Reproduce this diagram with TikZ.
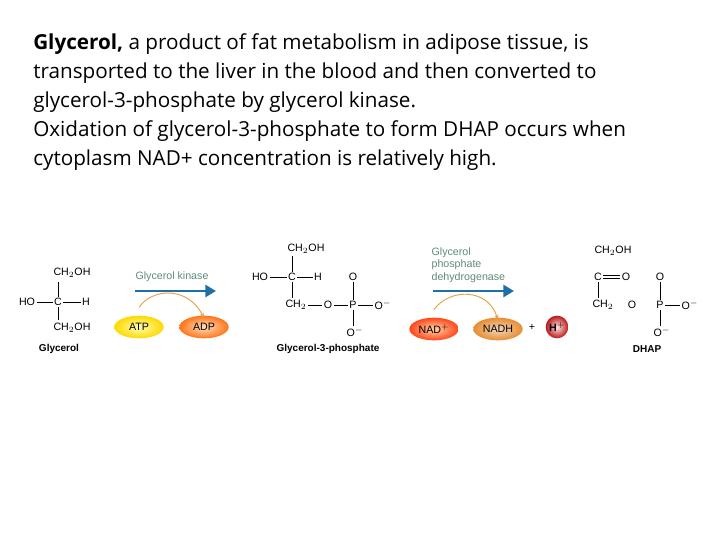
\documentclass[tikz,border=0pt]{standalone}
\usepackage{fontspec}
\setmainfont{Open Sans}
\newfontfamily\chem{Liberation Sans}
\definecolor{ablue}{HTML}{1E6FA5}
\definecolor{lgreen}{HTML}{5E8C7A}
\definecolor{corange}{HTML}{E8A040}
\usetikzlibrary{arrows.meta,shapes.geometric}
\tikzset{
 atm/.style={font=\chem\fontsize{8}{9.5}\selectfont,inner sep=1pt},
 lab/.style={font=\chem\bfseries\fontsize{7.5}{9}\selectfont},
 bond/.style={line width=0.5pt},
 blob/.style={ellipse,minimum width=37pt,minimum height=17pt,inner sep=0pt,font=\chem\fontsize{8}{9}\selectfont},
 bigarrow/.style={ablue,line width=2.2pt,-{Triangle[length=8pt,width=9pt]}},
 curve/.style={corange,line width=0.7pt,-{Stealth[length=4pt]}}
}
\begin{document}
\begin{tikzpicture}[x=0.75pt,y=-0.75pt]
\useasboundingbox[fill=white] (0,0) rectangle (720,540);
\node[anchor=west,align=left,font=\fontsize{15.5}{21.6}\selectfont,inner sep=0pt] (txt) at (33,102)
{\textbf{Glycerol,} a product of fat metabolism in adipose tissue, is\\
transported to the liver in the blood and then converted to\\
glycerol-3-phosphate by glycerol kinase.\\
Oxidation of glycerol-3-phosphate to form DHAP occurs when\\
cytoplasm NAD+ concentration is relatively high.};
% Glycerol
\node[atm] (g1) at (72,273) {CH$_2$OH};
\node[atm] (gc) at (58,302) {C};
\node[atm] (gho) at (27,302) {HO};
\node[atm] (gh) at (86,302) {H};
\node[atm] (g3) at (72,328) {CH$_2$OH};
\draw[bond] (gho)--(gc) (gc)--(gh) (gc)--(58,282) (gc)--(58,320);
\node[lab] (glab) at (59,349) {Glycerol};
% arrow 1
\coordinate (a1s) at (135,291); \coordinate (a1e) at (216,291);
\draw[bigarrow] (a1s)--(a1e);
\node[atm,text=lgreen] (k1) at (172,277) {Glycerol kinase};
\node[blob,inner color=yellow!30!white,outer color=yellow!70!orange] (atp) at (139,327) {ATP};
\node[blob,inner color=orange!25!white,outer color=orange!80!red!90!white] (adp) at (204,327) {ADP};
\draw[curve] ([yshift=6]atp.north) .. controls (152,288) and (188,286) .. ([yshift=-2]adp.north);
% G3P
\node[atm] (p1) at (306,249) {CH$_2$OH};
\node[atm] (pc) at (292,277) {C};
\node[atm] (pho) at (260,277) {HO};
\node[atm] (ph) at (318,277) {H};
\node[atm] (pch) at (296,305) {CH$_2$};
\node[atm] (po) at (328,305) {O};
\node[atm] (pp) at (353,305) {P};
\node[atm] (pom) at (383,305) {O$^-$};
\node[atm] (pot) at (353,277) {O};
\node[atm] (pob) at (355,332) {O$^-$};
\draw[bond] (pho)--(pc) (pc)--(ph) (pc)--(292,256) (pc)--(292,298) (pch)--(po) (po)--(pp) (pp)--(pom) (pp)--(pot) (pp)--(353,326);
\node[lab] (plab) at (328,349) {Glycerol-3-phosphate};
% arrow 2
\coordinate (a2s) at (433,291); \coordinate (a2e) at (514,291);
\draw[bigarrow] (a2s)--(a2e);
\node[atm,text=lgreen,align=left,anchor=west] (k2) at (430,265) {Glycerol\\phosphate\\dehydrogenase};
\node[blob,inner color=orange!35!white,outer color=red!60!orange!90!white] (nad) at (434,329) {NAD$^+$};
\node[blob,inner color=orange!25!brown!30!white,outer color=orange!60!brown!90!white] (nadh) at (498,329) {NADH};
\node[atm] (plus) at (532,327) {+};
\node[circle,minimum size=17pt,inner sep=0pt,inner color=red!10!white,outer color=red!70!black!90!white,font=\chem\bfseries\fontsize{8}{9}\selectfont] (hp) at (557,327) {H$^+$};
\draw[curve] ([yshift=6]nad.north) .. controls (450,288) and (488,288) .. ([yshift=-2]nadh.north);
% DHAP
\node[atm] (d1) at (613,251) {CH$_2$OH};
\node[atm] (dc) at (598,277) {C};
\node[atm] (do) at (626,277) {O};
\node[atm] (dch) at (603,305) {CH$_2$};
\node[atm] (dox) at (632,305) {O};
\node[atm] (dp) at (660,305) {P};
\node[atm] (dom) at (690,305) {O$^-$};
\node[atm] (dot) at (660,277) {O};
\node[atm] (dob) at (662,332) {O$^-$};
\draw[bond] ([yshift=-1]dc.east)--([yshift=-1]do.west) ([yshift=1]dc.east)--([yshift=1]do.west) (dc)--(598,298) (dp)--(dom) (dp)--(dot) (dp)--(660,326);
\node[lab] (dlab) at (647,349) {DHAP};
\end{tikzpicture}
\end{document}
